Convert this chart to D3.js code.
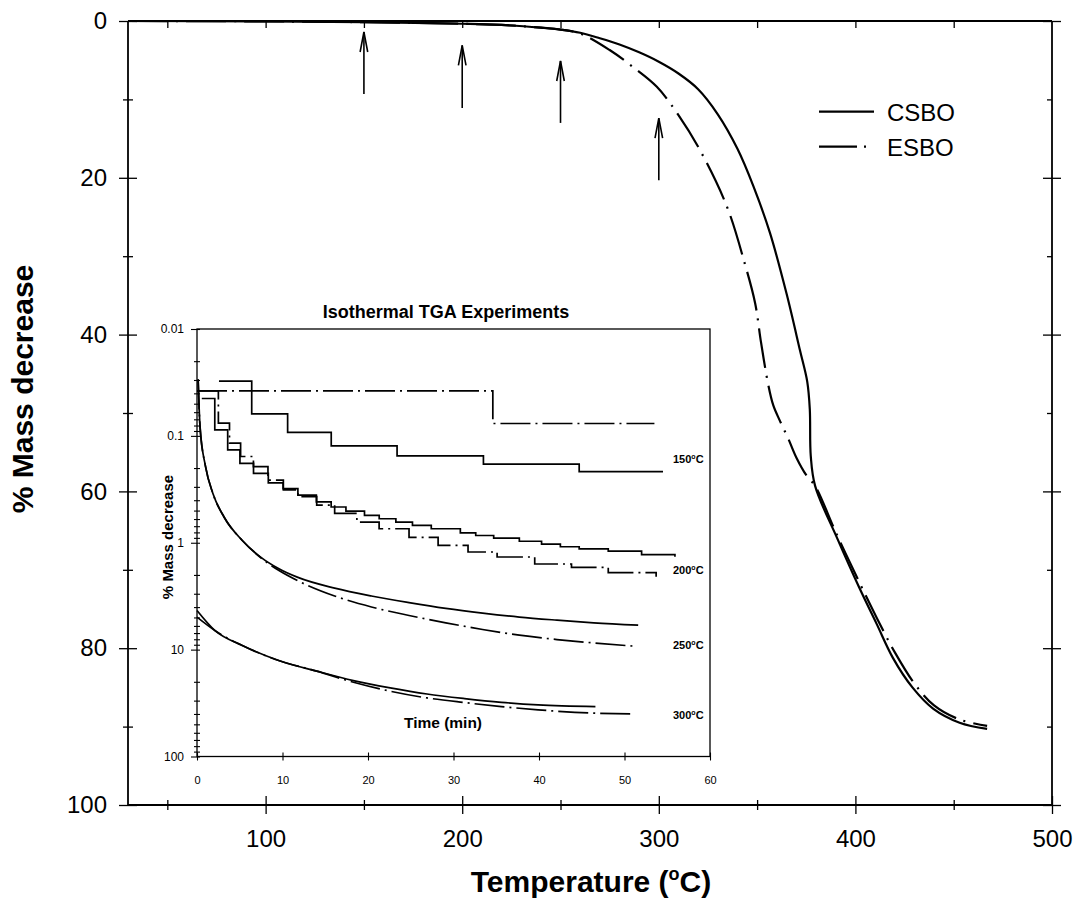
<!DOCTYPE html>
<html>
<head>
<meta charset="utf-8">
<script src="https://cdn.jsdelivr.net/npm/d3@7"></script>
<style>
  html, body { margin: 0; padding: 0; background: #fff; }
  svg { display: block; font-family: "Liberation Sans", Arial, Helvetica, sans-serif; }
</style>
</head>
<body>
<svg id="chart" width="1073" height="908"></svg>
<script>
// ---------- Main chart data (Temperature °C, % mass decrease) ----------
const csboTemp = [30, 100, 150, 200, 220, 240, 250, 260, 270, 280, 290, 300, 310, 320, 330, 340, 348, 356.5, 365, 371.8, 375.5, 376.8, 377.3, 379.5, 390.6, 402, 410.8, 419, 429, 439.5, 453, 467];
const csboMass = [0, 0.05, 0.15, 0.35, 0.5, 0.85, 1.1, 1.5, 2.2, 3.0, 4.0, 5.2, 6.7, 8.7, 11.9, 16.3, 21.0, 27, 34.8, 42, 46, 49.5, 55.5, 59.3, 65.9, 72.3, 76.9, 81.2, 85, 87.7, 89.5, 90.3];
const esboTemp = [30, 100, 150, 200, 220, 240, 250, 260, 275, 287, 299, 310, 321, 334.7, 343.8, 349, 352, 355.6, 358.2, 361.6, 365.9, 370, 375.2, 379.5, 390, 402, 411, 420, 430, 440, 453, 467];
const esboMass = [0, 0.05, 0.15, 0.35, 0.5, 0.85, 1.1, 1.6, 3.7, 5.9, 8.4, 12, 16.5, 23.7, 31, 36, 41, 46.3, 49, 51, 53.3, 55.7, 58, 59.3, 65.2, 71.6, 76.2, 80.5, 84.5, 87.3, 89.1, 89.9];

// arrows: temperature, tip value, tail value
const arrowTemp = [150, 200, 250, 300];
const arrowTip  = [1.4, 3.1, 5.1, 12.4];
const arrowTail = [9.3, 11.1, 13.0, 20.3];

const xTicks = [50, 100, 150, 200, 250, 300, 350, 400, 450, 500];
const xTickLabels = [100, 200, 300, 400, 500];
const yTicks = [0, 10, 20, 30, 40, 50, 60, 70, 80, 90, 100];
const yTickLabels = [0, 20, 40, 60, 80, 100];

const seriesNames = ["CSBO", "ESBO"];

// ---------- Inset data (time min, % mass decrease, log scale) ----------
const c150t = [2.57, 6.4, 10.6, 15.7, 23.4, 33.5, 44.7, 54.5];
const c150v = [0.0307, 0.0622, 0.0929, 0.124, 0.154, 0.184, 0.216, 0.216];
const e150t = [0, 34.6, 53.5];
const e150v = [0.038, 0.0766, 0.0766];

const c200t = [0.56, 2.08, 3.59, 5.02, 6.61, 8.34, 10.07, 11.8, 13.96, 15.69, 17.42, 19.59, 21.31, 23.26, 25.2, 27.4, 30.8, 32.6, 34.7, 37.7, 40.3, 42.5, 44.7, 48.1, 52.0, 55.9];
const c200v = [0.0447, 0.0877, 0.135, 0.181, 0.224, 0.275, 0.311, 0.359, 0.415, 0.463, 0.505, 0.554, 0.596, 0.640, 0.689, 0.740, 0.807, 0.855, 0.906, 0.968, 1.03, 1.09, 1.14, 1.20, 1.29, 1.35];
const e200t = [0, 2.5, 3.8, 5.1, 6.6, 8.3, 10.1, 11.8, 14.0, 16.1, 18.7, 21.3, 24.8, 28.2, 31.7, 35.1, 39.5, 43.8, 48.1, 53.7];
const e200v = [0.038, 0.076, 0.117, 0.156, 0.194, 0.259, 0.32, 0.37, 0.445, 0.53, 0.64, 0.74, 0.89, 1.06, 1.22, 1.36, 1.58, 1.70, 1.90, 2.08];

const c250t = [0.13, 0.35, 1.0, 1.86, 3.16, 5.3, 7.48, 9.64, 11.8, 16.1, 20.4, 24.8, 29.1, 33.4, 37.7, 42.1, 46.4, 51.6];
const c250v = [0.0296, 0.081, 0.194, 0.346, 0.574, 0.953, 1.37, 1.76, 2.11, 2.66, 3.15, 3.63, 4.11, 4.55, 4.96, 5.30, 5.61, 5.90];
const e250t = [0.13, 0.35, 1.0, 1.86, 3.16, 5.3, 7.9, 9.64, 11.8, 16.1, 20.4, 24.8, 29.1, 33.4, 37.7, 42.1, 46.4, 51.4];
const e250v = [0.0296, 0.081, 0.194, 0.346, 0.574, 0.953, 1.47, 1.83, 2.27, 3.15, 3.99, 4.79, 5.61, 6.48, 7.33, 8.05, 8.66, 9.31];

const c300t = [0, 2.08, 5.3, 9.64, 14.0, 18.3, 22.6, 26.9, 31.3, 35.6, 39.9, 46.6];
const c300v = [4.31, 6.62, 9.16, 12.7, 15.9, 19.5, 22.8, 26.0, 28.7, 31.1, 32.9, 34.1];
const e300t = [0, 2.08, 5.3, 9.64, 14.0, 18.3, 22.6, 26.9, 31.3, 35.6, 39.9, 44.2, 50.7];
const e300v = [4.97, 6.62, 9.16, 12.7, 15.9, 20.2, 24.5, 28.3, 31.3, 34.1, 36.6, 38.6, 40.0];

const insetXTicks = [0, 10, 20, 30, 40, 50, 60];
const insetYMajor = [0.01, 0.1, 1, 10, 100];
const insetYLabels = ["0.01", "0.1", "1", "10", "100"];
const isoTemps = ["150", "200", "250", "300"];
const isoLabelValue = [0.165, 1.78, 9.0, 40.5];

// ---------- Drawing ----------
const svg = d3.select("#chart");
const x = d3.scaleLinear().domain([30, 500]).range([128, 1052]);
const y = d3.scaleLinear().domain([0, 100]).range([21, 805]);

const zip = (a, b) => a.map((d, i) => [d, b[i]]);
const mainLine = d3.line().x(d => x(d[0])).y(d => y(d[1])).curve(d3.curveCatmullRom.alpha(0.5));

// main curves
svg.append("path").datum(zip(csboTemp, csboMass)).attr("d", mainLine)
  .attr("fill", "none").attr("stroke", "#000").attr("stroke-width", 2.2);
svg.append("path").datum(zip(esboTemp, esboMass)).attr("d", mainLine)
  .attr("fill", "none").attr("stroke", "#000").attr("stroke-width", 2.2)
  .attr("stroke-dasharray", "40,8,2,8");

// axes
const axB = svg.append("g").attr("transform", `translate(0,${y(100)})`)
  .call(d3.axisBottom(x).tickValues(xTicks).tickSize(9).tickPadding(16)
    .tickFormat(d => xTickLabels.includes(d) ? d : ""));
axB.selectAll(".tick line").attr("y1", d => d % 100 === 0 ? -9 : -5).attr("y2", d => d % 100 === 0 ? 9 : 5);
const axT = svg.append("g").attr("transform", `translate(0,${y(0)})`)
  .call(d3.axisTop(x).tickValues(xTicks.filter(d => d < 500)).tickSize(-7).tickFormat(""));
const axL = svg.append("g").attr("transform", `translate(${x(30)},0)`)
  .call(d3.axisLeft(y).tickValues(yTicks).tickSize(9).tickPadding(12)
    .tickFormat(d => yTickLabels.includes(d) ? d : ""));
axL.selectAll(".tick line").attr("x1", d => d % 20 === 0 ? 9 : 5).attr("x2", d => d % 20 === 0 ? -9 : -5);
const axR = svg.append("g").attr("transform", `translate(${x(500)},0)`)
  .call(d3.axisRight(y).tickValues(yTicks).tickSize(9).tickFormat(""));
axR.selectAll(".tick line").attr("x1", d => d % 20 === 0 ? -9 : -5).attr("x2", d => d % 20 === 0 ? 9 : 0);

[axB, axT, axL, axR].forEach(g => {
  g.select(".domain").attr("stroke", "#000").attr("stroke-width", 1.8);
  g.selectAll(".tick line").attr("stroke", "#000").attr("stroke-width", 1.3);
  g.selectAll(".tick text").attr("font-size", 24).attr("fill", "#000")
    .attr("font-family", '"Liberation Sans", Arial, sans-serif');
});
axB.select(".domain").attr("d", `M${x(30)},0H${x(500)}`);
axT.select(".domain").attr("d", `M${x(30)},0H${x(500)}`);
axL.select(".domain").attr("d", `M0,${y(0)}V${y(100)}`);
axR.select(".domain").attr("d", `M0,${y(0)}V${y(100)}`);

// axis titles
const xTitle = svg.append("text").attr("x", (x(30) + x(500)) / 2 + 1).attr("y", 892)
  .attr("text-anchor", "middle").attr("font-weight", "bold").attr("font-size", 30);
xTitle.append("tspan").text("Temperature (");
xTitle.append("tspan").attr("font-size", 18).attr("dy", -12).text("o");
xTitle.append("tspan").attr("dy", 12).text("C)");
svg.append("text").attr("transform", "translate(33,389) rotate(-90)")
  .attr("text-anchor", "middle").attr("font-weight", "bold").attr("font-size", 30)
  .text("% Mass decrease");

// arrows
const arrows = svg.append("g").attr("stroke", "#000").attr("stroke-width", 1.6).attr("fill", "none");
arrowTemp.forEach((t, i) => {
  const ax = x(t), yt = y(arrowTip[i]), yb = y(arrowTail[i]);
  arrows.append("line").attr("x1", ax).attr("x2", ax).attr("y1", yt).attr("y2", yb);
  arrows.append("path").attr("d", `M${ax - 3.8},${yt + 20}L${ax},${yt}L${ax + 3.8},${yt + 20}`);
});

// legend
const legY = [111.7, 146.7];
seriesNames.forEach((n, i) => {
  svg.append("line").attr("x1", 819).attr("x2", 874).attr("y1", legY[i]).attr("y2", legY[i])
    .attr("stroke", "#000").attr("stroke-width", 2.2)
    .attr("stroke-dasharray", i === 1 ? "38,7,2,30" : null);
  svg.append("text").attr("x", 887).attr("y", legY[i] + 9).attr("font-size", 24).text(n);
});

// ---------- Inset ----------
const ix = d3.scaleLinear().domain([0, 60]).range([197, 710]);
const iy = d3.scaleLog().domain([0.01, 100]).range([329, 756.5]);
const inset = svg.append("g");
inset.append("rect").attr("x", ix(0)).attr("y", iy(0.01)).attr("width", ix(60) - ix(0))
  .attr("height", iy(100) - iy(0.01)).attr("fill", "#fff").attr("stroke", "#000").attr("stroke-width", 1.3);

const stepLine = d3.line().x(d => ix(d[0])).y(d => iy(d[1])).curve(d3.curveStepAfter);
const smoothLine = d3.line().x(d => ix(d[0])).y(d => iy(d[1])).curve(d3.curveMonotoneX);
const insetSeries = [
  {t: c150t, v: c150v, dash: false, gen: stepLine},
  {t: e150t, v: e150v, dash: true, gen: stepLine},
  {t: c200t, v: c200v, dash: false, gen: stepLine},
  {t: e200t, v: e200v, dash: true, gen: stepLine},
  {t: c250t, v: c250v, dash: false, gen: smoothLine},
  {t: e250t, v: e250v, dash: true, gen: smoothLine},
  {t: c300t, v: c300v, dash: false, gen: smoothLine},
  {t: e300t, v: e300v, dash: true, gen: smoothLine}
];
insetSeries.forEach(s => {
  inset.append("path").datum(zip(s.t, s.v)).attr("d", s.gen)
    .attr("fill", "none").attr("stroke", "#000").attr("stroke-width", 1.7)
    .attr("stroke-dasharray", s.dash ? "30,5,2,5" : null);
});

// inset axes
const ixAxis = inset.append("g").attr("transform", `translate(0,${iy(100)})`)
  .call(d3.axisBottom(ix).tickValues(insetXTicks).tickSize(4).tickPadding(16));
ixAxis.selectAll(".tick line").attr("y1", -4);
ixAxis.select(".domain").remove();
const minorY = [];
[0.01, 0.1, 1, 10].forEach(dec => { for (let k = 2; k <= 9; k++) minorY.push(dec * k); });
const iyAxis = inset.append("g").attr("transform", `translate(${ix(0)},0)`)
  .call(d3.axisLeft(iy).tickValues(insetYMajor).tickSize(6).tickPadding(7)
    .tickFormat((d, i) => insetYLabels[i]));
iyAxis.selectAll(".tick line").attr("x2", -6).attr("x1", 3);
iyAxis.select(".domain").remove();
const iyMinor = inset.append("g").attr("transform", `translate(${ix(0)},0)`)
  .call(d3.axisLeft(iy).tickValues(minorY).tickSize(3).tickFormat(""));
iyMinor.selectAll(".tick line").attr("x1", 3);
iyMinor.select(".domain").remove();
[ixAxis, iyAxis, iyMinor].forEach(g => {
  g.selectAll(".tick line").attr("stroke", "#000").attr("stroke-width", 1.1);
  g.selectAll(".tick text").attr("font-size", 12).attr("fill", "#000")
    .attr("font-family", '"Liberation Sans", Arial, sans-serif');
});
ixAxis.selectAll(".tick text").attr("font-size", 11);

inset.append("text").attr("x", 446).attr("y", 318).attr("text-anchor", "middle")
  .attr("font-weight", "bold").attr("font-size", 18).text("Isothermal TGA Experiments");
inset.append("text").attr("x", 443).attr("y", 728).attr("text-anchor", "middle")
  .attr("font-weight", "bold").attr("font-size", 15.5).text("Time (min)");
inset.append("text").attr("transform", "translate(173,537) rotate(-90)").attr("text-anchor", "middle")
  .attr("font-weight", "bold").attr("font-size", 15).text("% Mass decrease");

isoTemps.forEach((tl, i) => {
  const tx = inset.append("text").attr("x", 673).attr("y", iy(isoLabelValue[i]) + 4)
    .attr("font-weight", "bold").attr("font-size", 11);
  tx.append("tspan").text(tl);
  tx.append("tspan").attr("font-size", 7).attr("dy", -4).text("o");
  tx.append("tspan").attr("dy", 4).text("C");
});
</script>
</body>
</html>
